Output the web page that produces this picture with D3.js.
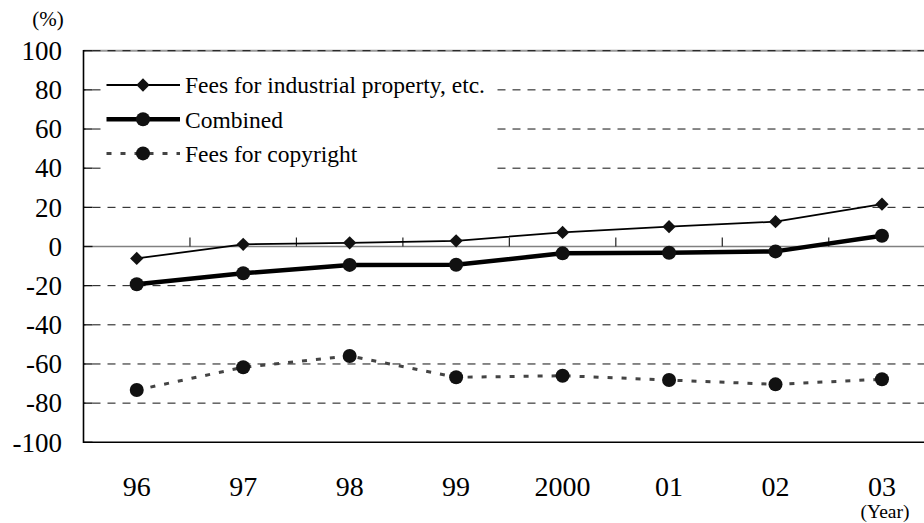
<!DOCTYPE html>
<html>
<head>
<meta charset="utf-8">
<script src="https://cdn.jsdelivr.net/npm/d3@7"></script>
<style>
    html, body { margin: 0; padding: 0; background: #fff; }
    svg { display: block; }
    svg text { font-family: 'Liberation Serif', 'Tinos', 'DejaVu Serif', 'Times New Roman', serif; }
</style>
</head>
<body>
<div id="chart"></div>
<script>
/*
 * Chart data.
 */
var years = ['96', '97', '98', '99', '2000', '01', '02', '03'];
var industrialFees = [-6.1, 1.1, 1.9, 2.9, 7.2, 10.1, 12.7, 21.6];
var combined = [-19.3, -13.7, -9.4, -9.3, -3.5, -3.2, -2.5, 5.5];
var copyrightFees = [-73.3, -61.7, -55.9, -66.8, -66.0, -68.2, -70.4, -67.8];
var yTicks = [-100, -80, -60, -40, -20, 0, 20, 40, 60, 80, 100];
var seriesNames = ['Fees for industrial property, etc.', 'Combined', 'Fees for copyright'];

var FONT = "'Liberation Serif', 'Tinos', 'DejaVu Serif', 'Times New Roman', serif";


/**
 * Line chart.
 * @public
 * @class
 */
function LineChart() {
    /**
     * Outer dimensions.
     * @private
     * @member {Object}
     */
    this._size = { width: 924, height: 523 };
    /**
     * Plot area box (right edge runs past the picture, as in the original).
     * @private
     * @member {Object}
     */
    this._plot = { left: 83.5, right: 935.2, top: 50.7, bottom: 442.3 };
    /**
     * Series styles.
     * @private
     * @member {Object[]}
     */
    this._series = [
        { name: seriesNames[0], values: industrialFees, width: 1.8, dash: null, color: '#000', marker: 'diamond' },
        { name: seriesNames[1], values: combined, width: 4.5, dash: null, color: '#000', marker: 'circle' },
        { name: seriesNames[2], values: copyrightFees, width: 3, dash: '5,9', color: '#444', marker: 'circle' }
    ];
    /**
     * Scales.
     * @private
     * @member {Function}
     */
    this._x = d3.scaleBand()
        .domain(years)
        .range([this._plot.left, this._plot.right]);
    this._y = d3.scaleLinear()
        .domain([-100, 100])
        .range([this._plot.bottom, this._plot.top]);
}


/**
 * Render chart.
 * @public
 * @param {String} selection
 * @returns {LineChart}
 */
LineChart.prototype.renderTo = function(selection) {

    this._svg = d3.select(selection).append('svg')
        .attr('width', this._size.width)
        .attr('height', this._size.height)
        .attr('font-family', FONT);

    this._renderGrid();
    this._renderAxes();
    this._renderLegend();
    this._renderSeries();

    return this;
};


/**
 * Draw dashed gridlines.
 * @private
 */
LineChart.prototype._renderGrid = function() {

    var self = this;
    /*
     * Thin grey plot border on top.
     */
    this._svg.append('line')
        .attr('x1', this._plot.left).attr('x2', this._plot.right)
        .attr('y1', this._y(100)).attr('y2', this._y(100))
        .attr('stroke', '#999').attr('stroke-width', 2);

    this._svg.append('g')
        .selectAll('line')
        .data(yTicks.filter(d => d !== 0 && d !== -100))
        .join('line')
        .attr('x1', this._plot.left)
        .attr('x2', this._plot.right)
        .attr('y1', d => self._y(d))
        .attr('y2', d => self._y(d))
        .attr('stroke', '#111')
        .attr('stroke-width', 1)
        .attr('stroke-dasharray', '8,7')
        .attr('stroke-dashoffset', -9);
};


/**
 * Draw axes, ticks and labels.
 * @private
 */
LineChart.prototype._renderAxes = function() {

    var self = this;
    var y0 = this._y(0);
    /*
     * Zero line.
     */
    this._svg.append('line')
        .attr('x1', this._plot.left).attr('x2', this._plot.right)
        .attr('y1', y0).attr('y2', y0)
        .attr('stroke', '#808080').attr('stroke-width', 1.6);
    /*
     * Category boundary ticks on the zero line.
     */
    var bounds = years.slice(1).map(d => self._x(d)).concat([this._plot.right]);
    this._svg.append('g')
        .selectAll('line')
        .data(bounds)
        .join('line')
        .attr('x1', d => d).attr('x2', d => d)
        .attr('y1', y0).attr('y2', y0 - 9)
        .attr('stroke', '#222').attr('stroke-width', 1.2);
    /*
     * Y ticks (inside).
     */
    this._svg.append('g')
        .selectAll('line')
        .data(yTicks)
        .join('line')
        .attr('x1', this._plot.left).attr('x2', this._plot.left + 9)
        .attr('y1', d => self._y(d)).attr('y2', d => self._y(d))
        .attr('stroke', '#111').attr('stroke-width', 1.3);
    /*
     * Left and bottom axis lines.
     */
    this._svg.append('line')
        .attr('x1', this._plot.left).attr('x2', this._plot.left)
        .attr('y1', this._plot.top - 0.8).attr('y2', this._plot.bottom + 0.8)
        .attr('stroke', '#000').attr('stroke-width', 1.6);
    this._svg.append('line')
        .attr('x1', this._plot.left).attr('x2', this._plot.right)
        .attr('y1', this._plot.bottom).attr('y2', this._plot.bottom)
        .attr('stroke', '#000').attr('stroke-width', 1.6);
    /*
     * Y labels.
     */
    this._svg.append('g')
        .selectAll('text')
        .data(yTicks)
        .join('text')
        .attr('x', 62)
        .attr('y', d => self._y(d) + 9.3)
        .attr('text-anchor', 'end')
        .attr('font-size', 27)
        .attr('fill', '#000')
        .text(d => d);
    /*
     * X labels.
     */
    this._svg.append('g')
        .selectAll('text')
        .data(years)
        .join('text')
        .attr('x', d => self._x(d) + self._x.bandwidth() / 2)
        .attr('y', 495.5)
        .attr('text-anchor', 'middle')
        .attr('font-size', 28)
        .attr('fill', '#000')
        .text(d => d);
    /*
     * Units.
     */
    this._svg.append('text')
        .attr('x', 48).attr('y', 25.5)
        .attr('text-anchor', 'middle')
        .attr('font-size', 21)
        .text('(%)');
    this._svg.append('text')
        .attr('x', 885).attr('y', 518)
        .attr('text-anchor', 'middle')
        .attr('font-size', 19.5)
        .text('(Year)');
};


/**
 * Append a marker.
 * @private
 * @param {d3.selection} g
 * @param {String} type
 * @param {Number} x
 * @param {Number} y
 */
LineChart.prototype._marker = function(g, type, x, y) {

    if (type === 'diamond') {
        g.append('path')
            .attr('d', d3.symbol(d3.symbolSquare, 88)())
            .attr('transform', 'translate(' + x + ',' + y + ') rotate(45)')
            .attr('fill', '#111');
    } else {
        g.append('circle')
            .attr('cx', x).attr('cy', y).attr('r', 7)
            .attr('fill', '#111');
    }
};


/**
 * Draw legend.
 * @private
 */
LineChart.prototype._renderLegend = function() {

    var self = this;
    var g = this._svg.append('g');

    g.append('rect')
        .attr('x', 101).attr('y', 63)
        .attr('width', 393).attr('height', 115)
        .attr('fill', '#fff');

    this._series.forEach(function(s, i) {
        var y = 85 + i * 34.2;
        g.append('line')
            .attr('x1', 106.5).attr('x2', 180)
            .attr('y1', y).attr('y2', y)
            .attr('stroke', s.color)
            .attr('stroke-width', s.width)
            .attr('stroke-dasharray', s.dash);
        self._marker(g, s.marker, 143, y);
        g.append('text')
            .attr('x', 185)
            .attr('y', y + 8.3)
            .attr('font-size', 23.5)
            .attr('fill', '#000')
            .text(s.name);
    });
};


/**
 * Draw series lines and markers.
 * @private
 */
LineChart.prototype._renderSeries = function() {

    var self = this;
    var cx = d => self._x(d) + self._x.bandwidth() / 2;
    var line = d3.line()
        .x((d, i) => cx(years[i]))
        .y(d => self._y(d));

    this._series.forEach(function(s) {
        var g = self._svg.append('g');
        g.append('path')
            .attr('d', line(s.values))
            .attr('fill', 'none')
            .attr('stroke', s.color)
            .attr('stroke-width', s.width)
            .attr('stroke-dasharray', s.dash)
            .attr('stroke-linejoin', 'round');
        s.values.forEach(function(v, i) {
            self._marker(g, s.marker, cx(years[i]), self._y(v));
        });
    });
};


new LineChart().renderTo('#chart');
</script>
</body>
</html>
